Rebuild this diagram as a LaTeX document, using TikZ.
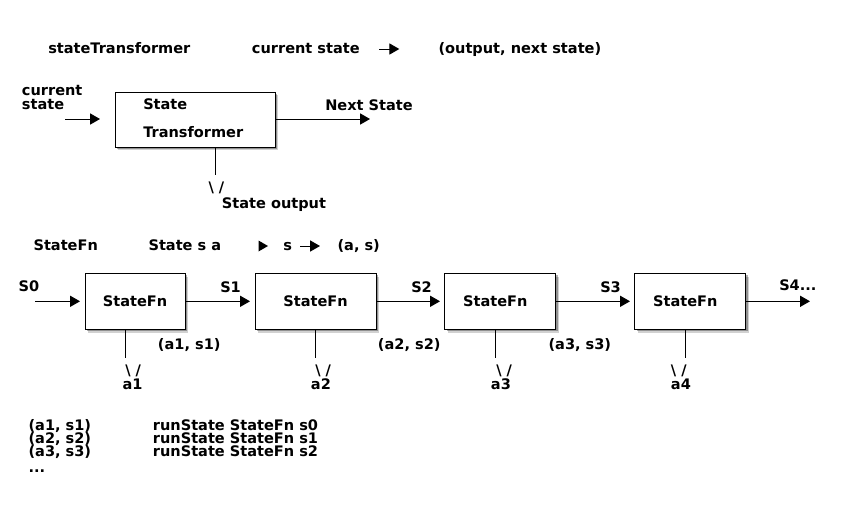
\documentclass[tikz,border=0pt]{standalone}
\usepackage{fontspec}
\setmainfont{DejaVu Sans}
\usetikzlibrary{arrows.meta,shadows}
\begin{document}
\begin{tikzpicture}[x=0.75pt,y=-0.75pt,
  txt/.style={anchor=base west,inner sep=0pt,font=\fontsize{10.9pt}{13pt}\selectfont\bfseries},
  boxshape/.style={draw,line width=0.75pt,fill=white,inner sep=0pt,
    font=\fontsize{10.9pt}{13pt}\selectfont\bfseries,
    drop shadow={shadow xshift=2.6pt,shadow yshift=-2.6pt,fill=black,opacity=0.18},
    drop shadow={shadow xshift=1.6pt,shadow yshift=-1.6pt,fill=black,opacity=0.3}},
  conn/.style={line width=0.75pt,-{Triangle[length=7.5pt,width=8.4pt]}},
  plainline/.style={line width=0.75pt}]
\useasboundingbox (0,0) rectangle (850,504);
\fill[white] (0,0) rectangle (850,504);

% ---- top line
\node[txt] (t1) at (48,53.3) {stateTransformer};
\node[txt] (t2) at (251.7,53.3) {current state};
\coordinate (ta1) at (379.3,49);
\coordinate (ta2) at (399.3,49);
\draw[conn] (ta1) -- (ta2);
\node[txt] (t3) at (438.3,53.3) {(output, next state)};

% ---- state transformer box
\node[txt] (cs1) at (21.7,95) {current};
\node[txt] (cs2) at (21.7,109) {state};
\node[boxshape,minimum width=120pt,minimum height=41.25pt] (tr) at (195,119.5) {};
\node[txt] (tr1) at (143,109) {State};
\node[txt] (tr2) at (143,137) {Transformer};
\coordinate (in1) at (65,119);
\coordinate (in2) at (100,119);
\draw[conn] (in1) -- (in2);
\coordinate (nsend) at (370,119);
\draw[conn] (tr.east |- nsend) -- (nsend);
\node[txt] (ns) at (325,110) {Next State};
\coordinate (so1) at (215.5,147);
\coordinate (so2) at (215.5,175);
\draw[plainline] (so1) -- (so2);
\node[txt] (sov) at (208.3,192) {\textbackslash\ /};
\node[txt] (sot) at (221.7,208.3) {State output};

% ---- StateFn type line
\node[txt] (f1) at (33.3,250) {StateFn};
\node[txt] (f2) at (148.3,250) {State s a};
\fill (258.5,240.5) -- (268,246) -- (258.5,251.5) -- cycle;
\node[txt] (f3) at (283,250) {s};
\coordinate (fa1) at (300,246);
\coordinate (fa2) at (320,246);
\draw[conn] (fa1) -- (fa2);
\node[txt] (f4) at (337.3,250) {(a, s)};

% ---- chain of StateFn boxes
\node[boxshape,minimum width=75pt,minimum height=42pt] (b1) at (135,301.3) {StateFn};
\node[boxshape,minimum width=90.75pt,minimum height=42pt] (b2) at (315.5,301.3) {StateFn};
\node[boxshape,minimum width=83pt,minimum height=42pt] (b3) at (500.3,301.3) {StateFn\hspace*{7.5pt}};
\node[boxshape,minimum width=83pt,minimum height=42pt] (b4) at (690.3,301.3) {StateFn\hspace*{7.5pt}};

\coordinate (s0a) at (35,301.3);
\coordinate (s0b) at (80,301.3);
\coordinate (s1b) at (250,301.3);
\coordinate (s2b) at (440,301.3);
\coordinate (s3b) at (630,301.3);
\coordinate (s4b) at (810,301.3);
\draw[conn] (s0a) -- (s0b);
\draw[conn] (b1.east) -- (s1b);
\draw[conn] (b2.east) -- (s2b);
\draw[conn] (b3.east) -- (s3b);
\draw[conn] (b4.east) -- (s4b);

\node[txt] (l0) at (18.3,291.7) {S0};
\node[txt] (l1) at (220,292) {S1};
\node[txt] (l2) at (411,292) {S2};
\node[txt] (l3) at (600,292) {S3};
\node[txt] (l4) at (779,290) {S4...};

\coordinate (d1) at (125,357.7);
\coordinate (d2) at (315.3,357.7);
\coordinate (d3) at (495.7,357.7);
\coordinate (d4) at (685.7,357.7);
\draw[plainline] (b1.south -| d1) -- (d1);
\draw[plainline] (b2.south -| d2) -- (d2);
\draw[plainline] (b3.south -| d3) -- (d3);
\draw[plainline] (b4.south -| d4) -- (d4);

\node[txt] (p1) at (157.7,349.3) {(a1, s1)};
\node[txt] (p2) at (377.7,349.3) {(a2, s2)};
\node[txt] (p3) at (548.3,349.3) {(a3, s3)};

\node[txt] (v1) at (125,375) {\textbackslash\ /};
\node[txt] (v2) at (315,375) {\textbackslash\ /};
\node[txt] (v3) at (496,375) {\textbackslash\ /};
\node[txt] (v4) at (670.7,375) {\textbackslash\ /};
\node[txt] (a1) at (122.3,389.3) {a1};
\node[txt] (a2) at (310.7,389.3) {a2};
\node[txt] (a3) at (490.7,389.3) {a3};
\node[txt] (a4) at (670.7,389.3) {a4};

% ---- bottom listing
\node[txt] (r1) at (28.3,430) {(a1, s1)};
\node[txt] (r2) at (28.3,443.3) {(a2, s2)};
\node[txt] (r3) at (28.3,456.7) {(a3, s3)};
\node[txt] (r4) at (28.3,472) {...};
\node[txt] (q1) at (152.7,430) {runState StateFn s0};
\node[txt] (q2) at (152.7,443.3) {runState StateFn s1};
\node[txt] (q3) at (152.7,456.7) {runState StateFn s2};
\end{tikzpicture}
\end{document}
